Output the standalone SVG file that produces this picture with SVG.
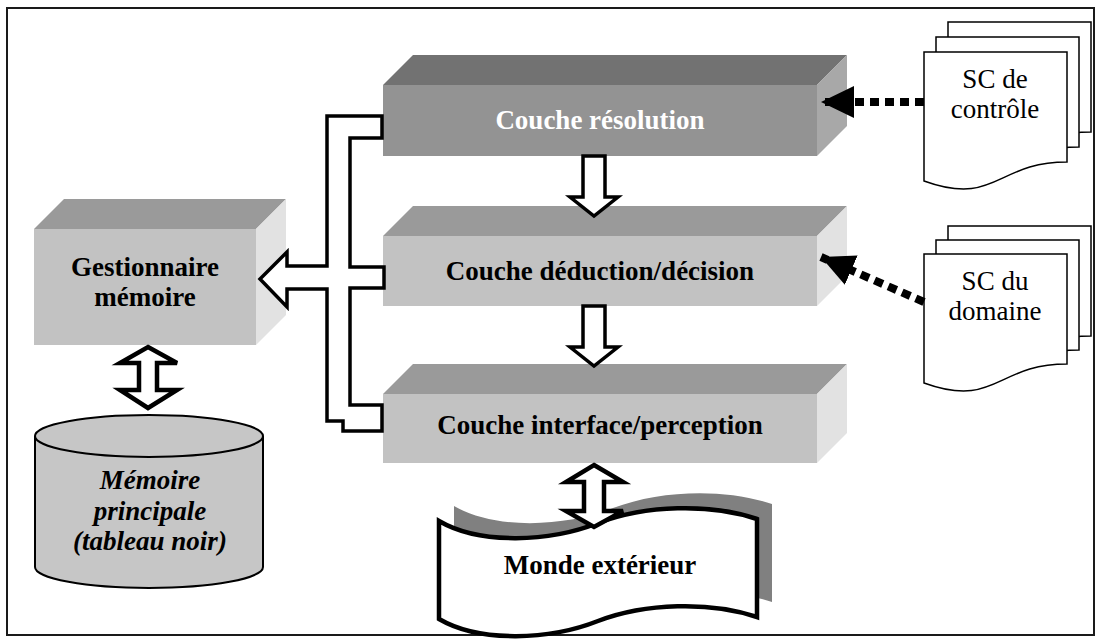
<svg xmlns="http://www.w3.org/2000/svg" width="1100" height="639" viewBox="0 0 1100 639">
<style>
.lbl{font-family:"Liberation Serif","Times New Roman",serif;font-size:27px;font-weight:bold;text-anchor:middle;fill:#000}
.lblw{fill:#fff}
.it{font-style:italic}
.reg{font-family:"Liberation Serif","Times New Roman",serif;font-size:27px;text-anchor:middle;fill:#000}
.dkfront{fill:#939393}.dktop{fill:#727272}.dkside{fill:#a8a8a8}
.ltfront{fill:#c2c2c2}.lttop{fill:#9a9a9a}.ltside{fill:#e2e2e2}
.doc{fill:#fff;stroke:#000;stroke-width:1.5}
.hollow{fill:#fff;stroke:#000;stroke-width:3.5;stroke-linejoin:miter}
.dbl{fill:#fff;stroke:#000;stroke-width:4.5;stroke-linejoin:miter}
.dots{stroke:#000;stroke-width:8;stroke-dasharray:9 6;fill:none}
</style>
<defs>
<marker id="head" markerUnits="userSpaceOnUse" markerWidth="34" markerHeight="32" refX="33" refY="16" orient="auto">
<path d="M0,0 L33,16 L0,32 Z" fill="#000"/>
</marker>
<path id="docshape" d="M0,0 H143 V110 C72,110 72,155 0,129 Z"/>
</defs>
<rect x="0" y="0" width="1100" height="639" fill="#fff"/>
<rect x="7" y="8" width="1087" height="627" fill="none" stroke="#1a1a1a" stroke-width="2"/>

<g id="couche-resolution">
<polygon class="dktop" points="383,85 413,55 847,55 817,85"/>
<polygon class="dkside" points="817,85 847,55 847,126 817,156"/>
<rect class="dkfront" x="383" y="85" width="434" height="71"/>
<text class="lbl lblw" x="600" y="129">Couche résolution</text>
</g>

<g id="couche-deduction">
<polygon class="lttop" points="383,236 413,206 847,206 817,236"/>
<polygon class="ltside" points="817,236 847,206 847,276 817,306"/>
<rect class="ltfront" x="383" y="236" width="434" height="70"/>
<text class="lbl" x="600" y="280">Couche déduction/décision</text>
</g>

<g id="couche-interface">
<polygon class="lttop" points="383,394 413,364 847,364 817,394"/>
<polygon class="ltside" points="817,394 847,364 847,433 817,463"/>
<rect class="ltfront" x="383" y="394" width="434" height="69"/>
<text class="lbl" x="600" y="434">Couche interface/perception</text>
</g>

<g id="gestionnaire-memoire">
<polygon class="lttop" points="34,229 64,199 286,199 256,229"/>
<polygon class="ltside" points="256,229 286,199 286,315 256,345"/>
<rect class="ltfront" x="34" y="229" width="222" height="116"/>
<text class="lbl" x="145" y="276">Gestionnaire</text>
<text class="lbl" x="145" y="306">mémoire</text>
</g>

<g id="memoire-principale">
<path d="M35,436 V567 A114,21 0 0 0 263,567 V436" fill="#c6c6c6" stroke="#000" stroke-width="2"/>
<ellipse cx="149" cy="436" rx="114" ry="21" fill="#c6c6c6" stroke="#000" stroke-width="2"/>
<text class="lbl it" x="150" y="489">Mémoire</text>
<text class="lbl it" x="150" y="520">principale</text>
<text class="lbl it" x="150" y="550">(tableau noir)</text>
</g>

<g id="monde-exterieur">
<path transform="translate(15,-15)" d="M439,521 C480,545 550,542 598,523 C645,505 710,503 757,519 L757,617 C710,601 645,603 598,621 C550,640 480,643 439,619 Z" fill="#808080"/>
<path d="M439,521 C480,545 550,542 598,523 C645,505 710,503 757,519 L757,617 C710,601 645,603 598,621 C550,640 480,643 439,619 Z" fill="#fff" stroke="#000" stroke-width="4.5"/>
<text class="lbl" x="600" y="574">Monde extérieur</text>
</g>

<g id="sc-controle">
<use href="#docshape" class="doc" x="948" y="22"/>
<use href="#docshape" class="doc" x="936" y="37"/>
<use href="#docshape" class="doc" x="924" y="52"/>
<text class="reg" x="995" y="88">SC de</text>
<text class="reg" x="995" y="118">contrôle</text>
</g>

<g id="sc-domaine">
<use href="#docshape" class="doc" x="948" y="226"/>
<use href="#docshape" class="doc" x="936" y="240"/>
<use href="#docshape" class="doc" x="924" y="254"/>
<text class="reg" x="995" y="290">SC du</text>
<text class="reg" x="995" y="320">domaine</text>
</g>

<g id="connectors">
<polygon class="hollow" points="327,116 382,116 382,138 350,138 350,267 384,267 384,288 350,288 350,405 382,405 382,431 343,431 343,421 327,421 327,289 287,289 287,307 260,279 287,252 287,266 327,266"/>
<polygon class="hollow" points="583,156 605,156 605,197 618,197 594,216 570,197 583,197"/>
<polygon class="hollow" points="583,306 605,306 605,347 618,347 594,366 570,347 583,347"/>
<polygon class="dbl" points="148,347 177,363 157,363 157,390 177,390 148,408 120,390 139,390 139,363 120,363"/>
<polygon class="dbl" points="594,465 623,482 604,482 604,511 623,511 594,527 566,511 584,511 584,482 566,482"/>
<line class="dots" x1="924" y1="102" x2="821" y2="102" marker-end="url(#head)"/>
<line class="dots" x1="924" y1="302" x2="821" y2="257" marker-end="url(#head)"/>
</g>
</svg>
